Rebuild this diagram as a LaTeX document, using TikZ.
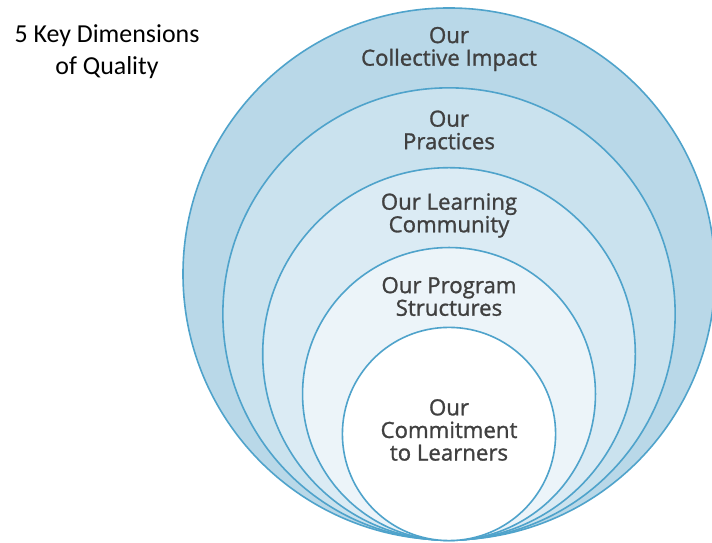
\documentclass[tikz,border=0pt]{standalone}
\usepackage{fontspec}
\setmainfont{Open Sans}
\newfontfamily\calibri{Carlito}
\newfontfamily\ringfont{Open Sans}[FakeBold=1.2]
\usetikzlibrary{positioning}
\definecolor{ringline}{HTML}{4FA3CB}
\definecolor{ringA}{HTML}{B9D8E8}
\definecolor{ringB}{HTML}{CAE2EE}
\definecolor{ringC}{HTML}{DBEBF4}
\definecolor{ringD}{HTML}{ECF4F9}
\definecolor{labelgray}{HTML}{404040}

\begin{document}
\begin{tikzpicture}[x=1bp,y=1bp,
    ring/.style={circle,draw=ringline,line width=1.6bp,inner sep=0pt},
    lbl/.style={align=center,text=labelgray,font=\ringfont\fontsize{22.3}{22.7}\selectfont}]
    \useasboundingbox (0,0) rectangle (712,543);
    \foreach[count=\i] \r/\c in {267/ringA,227/ringB,187/ringC,147/ringD,107/white} {
        \node[ring,fill=\c,minimum size=2*\r] (ring\i) at (449,2+\r) {};
    }

    \node[lbl] (impact) at (449,494) {Our\\Collective Impact};
    \node[lbl] (practices) at (449,413) {Our\\Practices};
    \node[lbl] (learning) at (449,327.5) {Our Learning\\Community};
    \node[lbl] (program) at (449,246.5) {Our Program\\Structures};
    \node[lbl] (commitment) at (449,113) {Our\\Commitment\\to Learners};

    \node[align=center,font=\calibri\fontsize{26}{32}\selectfont] (title) at (107,491) {5 Key Dimensions\\of Quality};
\end{tikzpicture}
\end{document}
